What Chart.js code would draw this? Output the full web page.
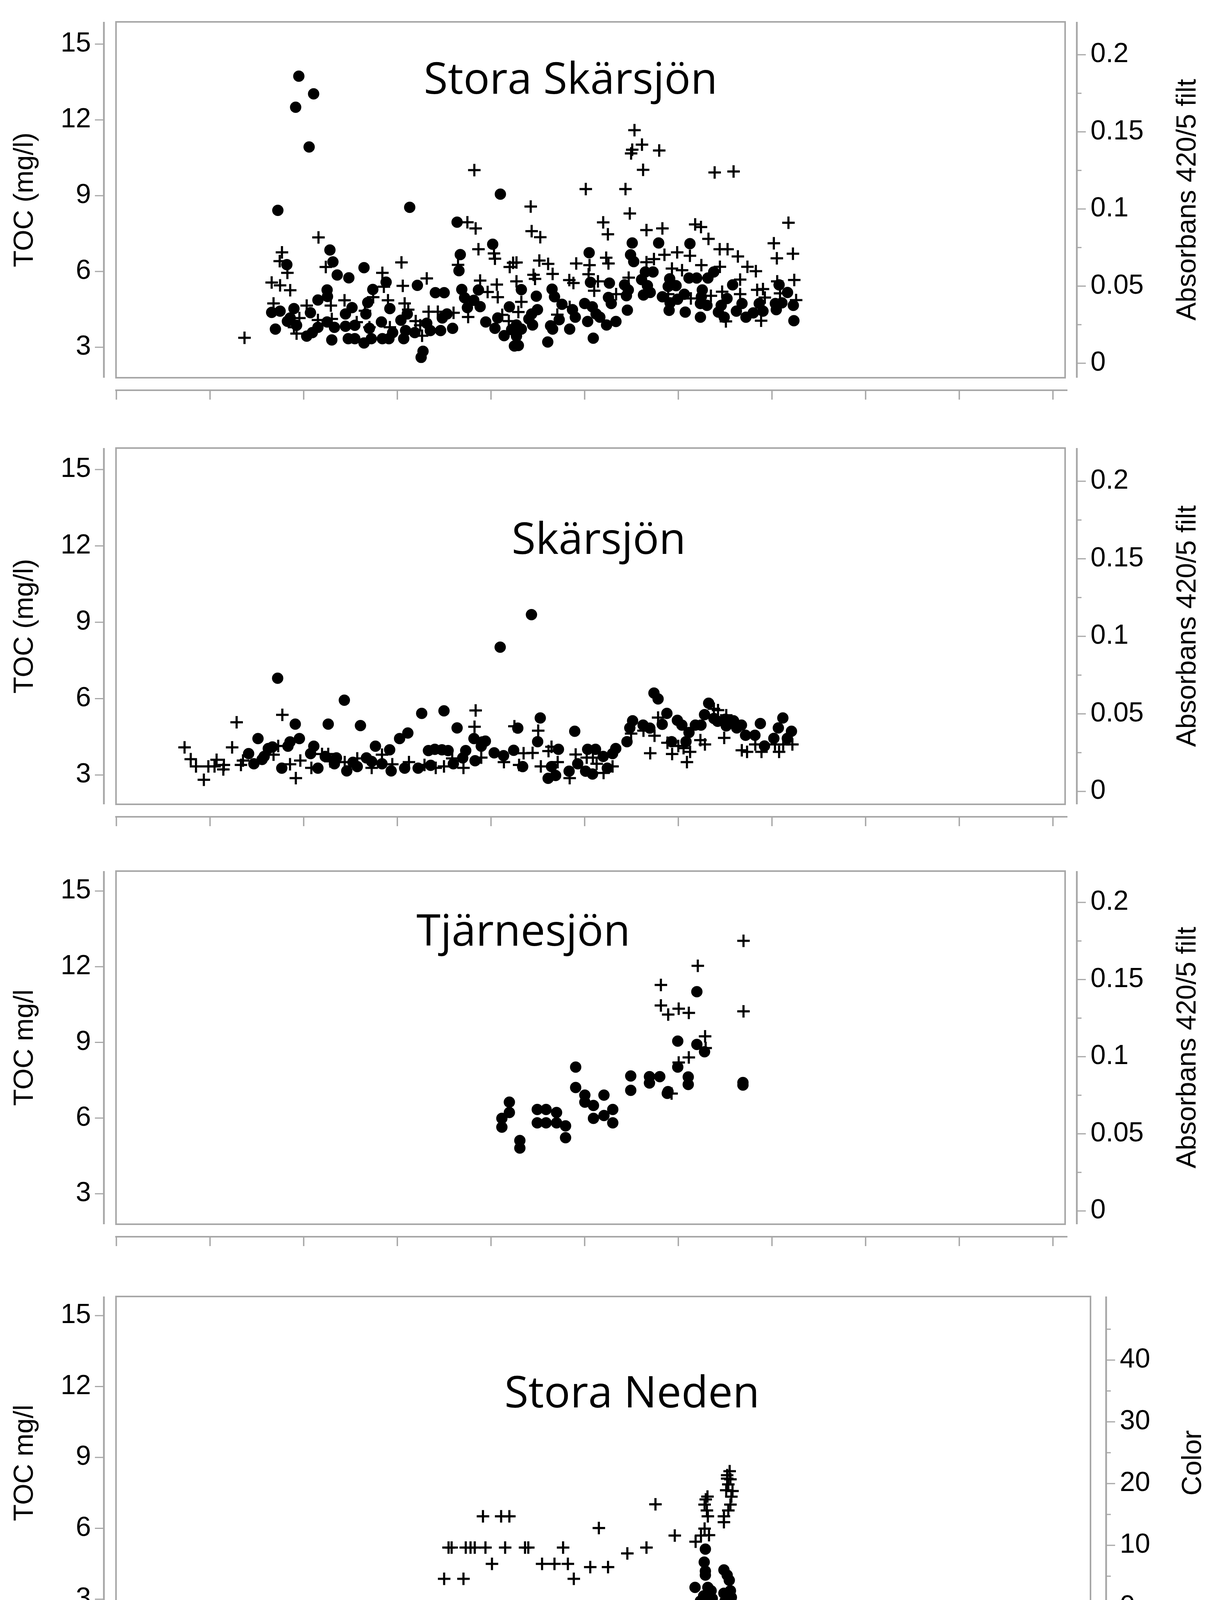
<!DOCTYPE html>
<html>
<head>
<meta charset="utf-8">
<script src="https://cdn.jsdelivr.net/npm/chart.js@4.4.1/dist/chart.umd.min.js"></script>
<style>
html,body{margin:0;padding:0;background:#fff;width:3121px;height:4430px;overflow:hidden;}
canvas{position:absolute;left:0;}
</style>
</head>
<body>
<canvas id="p1"></canvas>
<canvas id="p2"></canvas>
<canvas id="p3"></canvas>
<canvas id="p4"></canvas>
<script>
// ---------------- DATA ----------------
// Axis tick values / labels
const tocTicks = [3, 6, 9, 12, 15];
const absTicks = [0, 0.05, 0.1, 0.15, 0.2];
const absTickLabels = ['0', '0.05', '0.1', '0.15', '0.2'];
const absMinorTicks = [0.025, 0.075, 0.125, 0.175];
const colorTicks = [0, 10, 20, 30, 40];
const colorTickLabels = ['0', '10', '20', '30', '40'];
const colorMinorTicks = [5, 15, 25, 35, 45];
const xTickYears = [1980, 1985, 1990, 1995, 2000, 2005, 2010, 2015, 2020, 2025, 2030];
const xLabelYears = [1980, 1990, 2000, 2010, 2020, 2030];
const xLabels = ['01-1980', '01-1990', '01-2000', '01-2010', '01-2020', '01-2030'];

// Panel titles and axis titles
const panelTitles = ['Stora Skärsjön', 'Skärsjön', 'Tjärnesjön', 'Stora Neden'];
const leftTitles = ['TOC (mg/l)', 'TOC (mg/l)', 'TOC mg/l', 'TOC mg/l'];
const rightTitles = ['Absorbans 420/5 filt', 'Absorbans 420/5 filt', 'Absorbans 420/5 filt', 'Color'];
const xTitle = 'Date';

// Stora Skärsjön: TOC (dots) and absorbance (crosses)
const ssDotYear = [1989.74,1990.53,1989.57,1990.29,1988.62,1995.66,2000.50,1998.19,2000.09,1998.36,1998.29,1991.40,1991.56,1989.10,1991.79,1992.41,1993.22,1994.40,1993.69,1996.07,1997.03,1997.50,1991.25,1991.27,1990.76,1998.44,1998.59,1999.33,1999.08,1998.74,2000.98,1988.29,1988.74,1988.49,1989.48,1989.28,1989.62,1990.16,1990.36,1990.76,1990.46,1991.25,1991.50,1991.64,1992.23,1992.58,1992.38,1992.73,1992.23,1992.73,1993.22,1993.42,1993.32,1993.61,1993.51,1994.20,1994.55,1994.15,1994.60,1994.75,1995.19,1995.34,1995.44,1995.53,1996.27,1996.37,1996.57,1996.76,1997.31,1997.65,1997.95,1997.40,1999.72,1999.42,2000.21,2000.70,2000.36,2001.25,2001.10,1995.93,1989.13,
  2007.54,2008.95,2010.62,2005.24,2007.45,2007.62,2008.24,2008.65,2008.04,2011.89,2011.58,2010.57,2010.98,2009.54,2009.88,2009.46,2006.32,2007.13,2005.31,2012.90,2015.38,2015.83,2001.62,2003.26,2002.42,2003.39,2003.79,2008.35,2008.50,2008.14,2006.27,2006.42,2007.33,2007.23,2009.15,2009.56,2009.96,2010.32,2011.28,2011.23,2011.18,2011.53,2012.60,2012.29,2013.40,2014.32,2015.18,2015.53,2016.14,2009.51,2010.37,2012.14,2012.45,2013.10,2013.61,2014.00,2014.52,2015.23,2011.18,2016.17,2002.17,2002.48,2002.02,2002.22,2001.36,2001.62,2001.36,2001.46,2003.18,2003.29,2003.64,2003.03,2004.20,2004.50,2004.35,2005.00,2005.41,2005.61,2005.16,2005.81,2006.17,2006.67,2005.46,2007.28];
const ssDotTOC = [13.73,13.03,12.50,10.93,8.42,8.54,9.06,7.95,7.08,6.67,6.03,6.85,6.38,6.27,5.86,5.75,6.15,5.58,5.29,5.45,5.16,5.16,5.27,5.01,4.87,5.29,4.96,5.27,4.86,4.57,4.60,4.38,4.43,3.72,4.53,4.16,3.87,3.44,4.37,3.79,3.58,4.00,3.29,3.79,4.32,4.57,3.34,3.34,3.83,3.87,3.17,4.77,4.32,3.34,3.75,3.34,3.34,4.00,4.53,3.58,4.07,3.34,3.66,4.32,2.60,2.84,3.95,3.66,3.66,4.32,3.75,4.16,4.00,4.61,3.75,3.46,4.16,3.05,3.70,3.58,4.03,
  7.13,7.13,7.10,6.74,6.66,6.39,5.98,5.98,5.68,5.98,5.74,5.74,5.74,5.71,5.44,5.41,5.54,5.47,5.57,5.47,5.47,5.17,5.28,5.30,5.02,5.00,4.70,5.44,5.17,5.07,4.97,4.73,5.27,5.04,5.00,4.76,4.90,5.10,5.27,5.00,4.73,4.66,4.93,4.66,4.73,4.73,4.73,4.76,4.66,4.46,4.39,4.39,4.19,4.43,4.19,4.36,4.43,4.49,4.19,4.05,4.32,4.49,4.12,3.88,3.88,3.72,3.44,3.07,3.85,3.72,4.09,3.21,3.72,4.19,4.49,4.73,4.60,4.32,4.02,4.19,3.88,4.02,3.36,4.47];
const ssCrossYear = [1986.84,1990.79,1988.84,1988.72,1989.13,1988.29,1988.74,1989.28,1991.18,1988.39,1990.16,1991.45,1992.18,1994.20,1994.28,1995.22,1995.29,1996.57,1994.50,1995.39,1993.71,1993.27,1998.74,1999.18,1999.33,2000.16,2000.21,1999.11,2001.00,2001.18,1999.42,1999.82,2000.31,2000.36,1998.24,1996.67,1997.16,1998.00,1996.22,1996.32,1995.98,1995.58,1994.60,1993.51,1992.83,1991.50,1990.76,1989.62,1989.48,1989.77,1998.78,2000.60,2000.95,
  2007.66,2008.06,2007.54,2007.48,2008.98,2008.12,2011.94,2012.95,2005.06,2007.18,2002.12,2007.41,2005.99,2006.24,2002.17,2002.63,2008.30,2009.15,2010.90,2011.21,2015.88,2011.61,2012.21,2012.63,2013.18,2013.69,2014.14,2015.10,2015.26,2016.12,2016.19,2013.30,2012.22,2011.23,2009.94,2010.62,2009.26,2008.70,2008.30,2009.66,2010.20,2006.15,2006.27,2002.58,2003.05,2004.55,2005.26,2002.27,2003.29,2002.35,2001.36,2001.36,2004.18,2004.40,2005.21,2005.71,2005.51,2007.35,2006.68,2012.34,2013.30,2014.21,2014.52,2014.62,2015.28,2015.43,2016.29,2012.54,2014.42,2011.74,2010.67,2009.46,2001.62,2001.46,2004.20,2003.54];
const ssCrossAbs = [0.0165,0.0816,0.0719,0.0662,0.0586,0.0523,0.0505,0.0473,0.0624,0.0388,0.0374,0.0374,0.0408,0.0586,0.0496,0.0654,0.0502,0.0550,0.0408,0.0388,0.0428,0.0340,0.0914,0.0874,0.0739,0.0712,0.0678,0.1252,0.0624,0.0651,0.0536,0.0462,0.0510,0.0428,0.0638,0.0334,0.0334,0.0327,0.0246,0.0178,0.0273,0.0347,0.0233,0.0233,0.0266,0.0287,0.0280,0.0192,0.0233,0.0293,0.0300,0.0314,0.0273,
  0.1511,0.1417,0.1384,0.1360,0.1379,0.1254,0.1237,0.1243,0.1129,0.1129,0.1016,0.0971,0.0913,0.0836,0.0856,0.0817,0.0863,0.0874,0.0900,0.0883,0.0911,0.0806,0.0739,0.0739,0.0692,0.0625,0.0597,0.0778,0.0680,0.0710,0.0540,0.0542,0.0625,0.0636,0.0719,0.0697,0.0703,0.0675,0.0655,0.0614,0.0603,0.0684,0.0647,0.0666,0.0644,0.0647,0.0636,0.0573,0.0579,0.0547,0.0653,0.0531,0.0539,0.0520,0.0577,0.0531,0.0470,0.0555,0.0448,0.0464,0.0448,0.0476,0.0481,0.0426,0.0531,0.0453,0.0409,0.0271,0.0276,0.0437,0.0420,0.0448,0.0398,0.0332,0.0365,0.0315];

// Skärsjön
const skDotYear = [1988.61,1992.17,1989.55,1991.31,1993.03,1987.56,1996.30,1997.49,1998.19,1995.56,1995.12,1999.09,1999.54,1999.48,1989.77,1989.27,1989.16,1990.54,1990.37,1993.83,1994.59,1987.06,1987.34,1988.11,1987.89,1988.33,1987.78,1988.83,1990.76,1991.15,1991.75,1991.64,1992.30,1992.63,1992.86,1993.35,1993.63,1994.18,1994.67,1995.39,1996.11,1996.66,1997.00,1997.38,1997.71,1997.99,1998.65,1998.49,1999.15,1996.78,
  2002.16,2000.49,2002.63,2001.43,2002.49,2004.47,1999.70,2000.17,2000.67,2001.21,2001.69,2003.23,2003.60,2003.45,2003.05,2004.17,2004.63,2005.05,2005.42,2005.16,2005.58,2005.99,2006.21,2006.49,2006.66,2007.26,2007.41,2007.56,2008.12,2008.48,2008.70,2008.92,2009.39,2009.14,2009.95,2010.19,2010.57,2010.41,2009.64,2010.91,2011.21,2011.62,2011.40,2011.90,2012.10,2012.51,2012.56,2012.95,2013.12,2013.37,2013.59,2014.09,2014.38,2014.60,2015.10,2015.34,2015.58,2016.04,2015.82];
const skDotTOC = [6.80,5.94,5.00,5.00,4.94,4.43,5.42,5.52,4.85,4.65,4.43,4.43,4.30,4.13,4.43,4.30,4.13,4.13,3.84,4.13,3.99,3.84,3.44,4.04,3.73,4.10,3.61,3.27,3.27,3.73,3.67,3.44,3.16,3.50,3.33,3.67,3.53,3.44,3.16,3.27,3.27,3.96,4.01,3.99,3.96,3.44,3.96,3.67,3.56,3.38,
  9.30,8.02,5.24,4.84,4.31,4.72,4.33,3.87,3.76,3.97,3.33,3.33,4.01,2.98,2.87,3.15,3.44,3.15,3.04,4.01,4.01,3.73,3.27,3.84,4.04,4.31,4.85,5.13,4.96,4.84,6.22,5.99,5.42,4.99,5.15,4.96,4.67,4.31,4.31,4.96,4.96,5.82,5.37,5.22,5.11,5.19,4.93,5.13,4.85,4.96,4.56,4.56,5.02,4.14,4.44,4.85,5.24,4.72,4.44];
const skCrossYear = [1983.64,1983.97,1984.25,1984.91,1984.67,1985.24,1985.35,1985.74,1985.71,1986.18,1986.42,1986.65,1986.76,1988.86,1988.64,1988.39,1989.27,1989.82,1989.58,1990.41,1990.98,1991.31,1991.42,1992.19,1992.86,1993.63,1994.18,1994.73,1995.62,1996.45,1997.05,1997.49,1997.93,1998.53,1999.18,1999.12,1999.48,
  2001.25,2002.52,2001.74,2002.22,2000.69,2001.50,2002.66,2003.23,2003.07,2003.56,2004.52,2004.20,2005.11,2005.44,2005.64,2006.01,2006.49,2007.48,2008.14,2008.73,2008.92,2008.50,2009.42,2009.67,2010.00,2010.28,2010.63,2010.46,2011.18,2011.42,2011.90,2012.12,2012.56,2012.45,2013.39,2013.67,2014.11,2014.44,2015.16,2015.38,2015.60,2016.09];
const skCrossAbs = [0.0284,0.0208,0.0161,0.0161,0.0075,0.0161,0.0204,0.0171,0.0142,0.0284,0.0446,0.0171,0.0199,0.0494,0.0293,0.0237,0.0175,0.0199,0.0086,0.0152,0.0241,0.0241,0.0194,0.0189,0.0213,0.0152,0.0237,0.0175,0.0189,0.0171,0.0152,0.0161,0.0213,0.0152,0.0522,0.0417,0.0218,
  0.0420,0.0392,0.0246,0.0248,0.0189,0.0171,0.0161,0.0288,0.0260,0.0189,0.0238,0.0086,0.0218,0.0218,0.0178,0.0119,0.0161,0.0373,0.0392,0.0359,0.0476,0.0246,0.0314,0.0241,0.0293,0.0279,0.0255,0.0189,0.0331,0.0303,0.0533,0.0524,0.0491,0.0345,0.0265,0.0255,0.0303,0.0255,0.0303,0.0255,0.0303,0.0303];

// Tjärnesjön
const tjDotYear = [2000.98,2000.98,2000.58,2000.58,2001.54,2001.54,2002.47,2002.94,2003.50,2002.47,2002.94,2003.50,2003.98,2003.98,2004.52,2004.52,2005.01,2005.01,2005.47,2006.03,2006.50,2006.03,2005.47,2006.50,2007.46,2007.46,2008.46,2008.46,2009.01,2009.41,2009.45,2009.97,2009.97,2010.53,2010.53,2010.99,2010.99,2011.40,2013.45,2013.45];
const tjDotTOC = [6.63,6.22,5.99,5.64,5.11,4.81,6.34,6.34,6.22,5.81,5.81,5.81,5.69,5.22,8.02,7.21,6.91,6.63,6.50,6.91,6.34,6.10,5.99,5.81,7.67,7.10,7.64,7.39,7.64,6.98,7.05,9.05,8.02,7.63,7.33,11.01,8.92,8.63,7.41,7.31];
const tjCrossYear = [2013.48,2011.04,2009.07,2009.07,2009.46,2010.02,2010.56,2013.48,2011.43,2011.46,2010.56,2010.02,2009.64];
const tjCrossAbs = [0.1751,0.1589,0.1465,0.1332,0.1273,0.1311,0.1284,0.1294,0.1132,0.1056,0.0995,0.0962,0.0761];

// Stora Neden: TOC (dots) and Color (crosses)
const snDotYear = [2010.76,2010.70,2010.76,2010.76,2010.22,2010.89,2010.67,2010.67,2011.12,2011.06,2011.73,2011.90,2012.01,2011.73,2012.07,2011.79,2012.12,2012.07,2010.50];
const snDotTOC = [5.12,4.57,4.19,4.02,3.50,3.50,3.14,2.75,3.03,3.36,4.24,4.02,3.80,3.25,3.36,2.92,3.08,2.48,2.92];
const snCrossYear = [1997.10,1998.11,1997.33,1997.49,1998.23,1998.48,1998.70,1999.26,1999.13,2000.08,2000.51,1999.60,2000.29,2001.33,2001.50,2002.22,2002.87,2003.57,2003.32,2003.88,2004.74,2005.67,2005.19,2006.68,2007.68,2008.15,2009.16,2010.25,2010.53,2010.72,2010.87,2010.72,2010.84,2010.89,2010.78,2010.95,2011.73,2011.73,2011.96,2012.07,2012.12,2011.85,2011.96,2011.90,2012.03,2011.90,2012.18,2012.07];
const snCrossColor = [4.57,4.57,9.64,9.64,9.64,9.64,9.64,9.64,14.7,14.7,14.7,7.0,9.64,9.64,9.64,7.0,7.0,7.0,9.64,4.57,6.47,6.47,12.8,8.69,9.64,16.64,11.58,10.59,11.58,12.7,17.9,16.6,15.65,14.7,17.44,11.64,13.75,14.7,15.65,16.6,17.87,18.92,19.87,20.8,22.0,21.35,18.8,20.7];

// ---------------- RENDERING ----------------
const GRAY = '#a7a7a7';
const AXIS_FONT = '70px "Liberation Sans", Arial, sans-serif';
const TITLE_FONT = '112px "Open Sans", "Noto Sans", sans-serif';

function pts(xs, ys) { return xs.map((x, i) => ({ x: x, y: ys[i] })); }

const jmpPlugin = {
  id: 'jmp',
  beforeDatasetsDraw(chart, args, o) {
    const a = chart.chartArea, ctx = chart.ctx;
    ctx.save();
    ctx.strokeStyle = GRAY;
    ctx.lineWidth = 4;
    ctx.strokeRect(a.left, a.top, a.right - a.left, a.bottom - a.top);
    ctx.restore();
  },
  afterDraw(chart, args, o) {
    const a = chart.chartArea, ctx = chart.ctx;
    const sx = chart.scales.x, sy = chart.scales.y, sy2 = chart.scales.y2;
    function line(x1, y1, x2, y2, w) {
      ctx.beginPath(); ctx.lineWidth = w; ctx.moveTo(x1, y1); ctx.lineTo(x2, y2); ctx.stroke();
    }
    ctx.save();
    ctx.strokeStyle = GRAY;
    ctx.fillStyle = '#000';
    ctx.font = AXIS_FONT;

    // Left axis
    const lx = a.left - 31;
    line(lx, a.top, lx, a.bottom, 4.5);
    ctx.textAlign = 'right'; ctx.textBaseline = 'middle';
    tocTicks.forEach(v => {
      const y = sy.getPixelForValue(v);
      line(lx - 23, y, lx, y, 3);
      ctx.fillText(String(v), lx - 33, y);
    });

    // Right axis
    const rx = a.right + o.rightGap;
    line(rx, a.top, rx, a.bottom, 4.5);
    ctx.textAlign = 'left';
    o.rightMinor.forEach(v => {
      const y = sy2.getPixelForValue(v);
      line(rx, y, rx + 12, y, 3);
    });
    o.rightTicks.forEach((v, i) => {
      const y = sy2.getPixelForValue(v);
      line(rx, y, rx + 23, y, 3);
      ctx.fillText(o.rightLabels[i], rx + 35, y);
    });

    // X axis strip
    const xy = a.bottom + 32;
    line(a.left - 2, xy, a.right + 6, xy, 4);
    xTickYears.forEach(v => {
      const x = sx.getPixelForValue(v);
      line(x, xy, x, xy + 24, 3.5);
    });
    if (o.showXLabels) {
      ctx.textAlign = 'center'; ctx.textBaseline = 'middle';
      xLabelYears.forEach((v, i) => {
        const w = ctx.measureText(xLabels[i]).width;
        let x = sx.getPixelForValue(v);
        x = Math.max(a.left + w / 2 + 4, Math.min(a.right - w / 2 + 8, x));
        ctx.fillText(xLabels[i], x, o.xLabelY);
      });
      ctx.fillText(xTitle, (a.left + a.right) / 2, o.xTitleY);
    }

    // Axis titles
    const cy = (a.top + a.bottom) / 2;
    ctx.textAlign = 'center'; ctx.textBaseline = 'middle';
    ctx.save(); ctx.translate(65, cy); ctx.rotate(-Math.PI / 2);
    ctx.fillText(o.leftTitle, 0, 0); ctx.restore();
    ctx.save(); ctx.translate(o.rightTitleX, cy); ctx.rotate(-Math.PI / 2);
    ctx.fillText(o.rightTitle, 0, 0); ctx.restore();

    // Panel title
    ctx.font = TITLE_FONT;
    ctx.textAlign = 'center'; ctx.textBaseline = 'alphabetic';
    ctx.fillText(o.title, o.titleX, o.titleY);
    ctx.restore();
  }
};

const W = 3121;
const panels = [
  { id: 'p1', top: 0, h: 1100, frame: { l: 297, t: 56, r: 2727, b: 967 },
    x: [1979.98, 2030.65], y: [1.794, 15.88], y2: [-0.0094, 0.2213],
    dots: pts(ssDotYear, ssDotTOC), crosses: pts(ssCrossYear, ssCrossAbs),
    rightTicks: absTicks, rightLabels: absTickLabels, rightMinor: absMinorTicks, rightGap: 30, rightTitleX: 3042,
    titleX: 1461, titleY: 240, showXLabels: false },
  { id: 'p2', top: 1100, h: 1090, frame: { l: 297, t: 1147, r: 2727, b: 2059 },
    x: [1979.98, 2030.65], y: [1.849, 15.844], y2: [-0.0083, 0.2214],
    dots: pts(skDotYear, skDotTOC), crosses: pts(skCrossYear, skCrossAbs),
    rightTicks: absTicks, rightLabels: absTickLabels, rightMinor: absMinorTicks, rightGap: 30, rightTitleX: 3042,
    titleX: 1533, titleY: 1418, showXLabels: false },
  { id: 'p3', top: 2190, h: 1060, frame: { l: 297, t: 2230, r: 2727, b: 3134 },
    x: [1979.98, 2030.65], y: [1.792, 15.79], y2: [-0.0086, 0.2203],
    dots: pts(tjDotYear, tjDotTOC), crosses: pts(tjCrossYear, tjCrossAbs),
    rightTicks: absTicks, rightLabels: absTickLabels, rightMinor: absMinorTicks, rightGap: 30, rightTitleX: 3042,
    titleX: 1340, titleY: 2421, showXLabels: false },
  { id: 'p4', top: 3250, h: 1180, frame: { l: 297, t: 3319, r: 2792, b: 4171 },
    x: [1979.94, 2030.9], y: [1.727, 15.81], y2: [-3.6, 50.3],
    dots: pts(snDotYear, snDotTOC), crosses: pts(snCrossYear, snCrossColor),
    rightTicks: colorTicks, rightLabels: colorTickLabels, rightMinor: colorMinorTicks, rightGap: 40, rightTitleX: 3056,
    titleX: 1618, titleY: 3603, showXLabels: true, xLabelY: 4290, xTitleY: 4374 }
];

panels.forEach((p, idx) => {
  const cv = document.getElementById(p.id);
  cv.width = W; cv.height = p.h;
  cv.style.width = W + 'px'; cv.style.height = p.h + 'px';
  cv.style.top = p.top + 'px';
  new Chart(cv, {
    type: 'scatter',
    data: {
      datasets: [
        { label: 'TOC', data: p.dots, yAxisID: 'y', pointStyle: 'circle', pointRadius: 14.5, pointHoverRadius: 14.5,
          backgroundColor: '#000', borderColor: '#000', borderWidth: 0, clip: false },
        { label: rightTitles[idx], data: p.crosses, yAxisID: 'y2', pointStyle: 'cross', pointRadius: 16, pointHoverRadius: 16,
          backgroundColor: '#000', borderColor: '#000', borderWidth: 5.5, clip: false }
      ]
    },
    options: {
      responsive: false, animation: false, devicePixelRatio: 1, events: [],
      layout: { padding: { left: p.frame.l, right: W - p.frame.r, top: p.frame.t - p.top, bottom: p.top + p.h - p.frame.b } },
      scales: {
        x: { type: 'linear', min: p.x[0], max: p.x[1], display: false },
        y: { type: 'linear', position: 'left', min: p.y[0], max: p.y[1], display: false },
        y2: { type: 'linear', position: 'right', min: p.y2[0], max: p.y2[1], display: false }
      },
      plugins: {
        legend: { display: false }, tooltip: { enabled: false },
        jmp: {
          rightTicks: p.rightTicks, rightLabels: p.rightLabels, rightMinor: p.rightMinor, rightGap: p.rightGap,
          rightTitleX: p.rightTitleX, rightTitle: rightTitles[idx], leftTitle: leftTitles[idx],
          title: panelTitles[idx], titleX: p.titleX, titleY: p.titleY - p.top,
          showXLabels: p.showXLabels, xLabelY: (p.xLabelY || 0) - p.top, xTitleY: (p.xTitleY || 0) - p.top
        }
      }
    },
    plugins: [jmpPlugin]
  });
});
</script>
</body>
</html>
